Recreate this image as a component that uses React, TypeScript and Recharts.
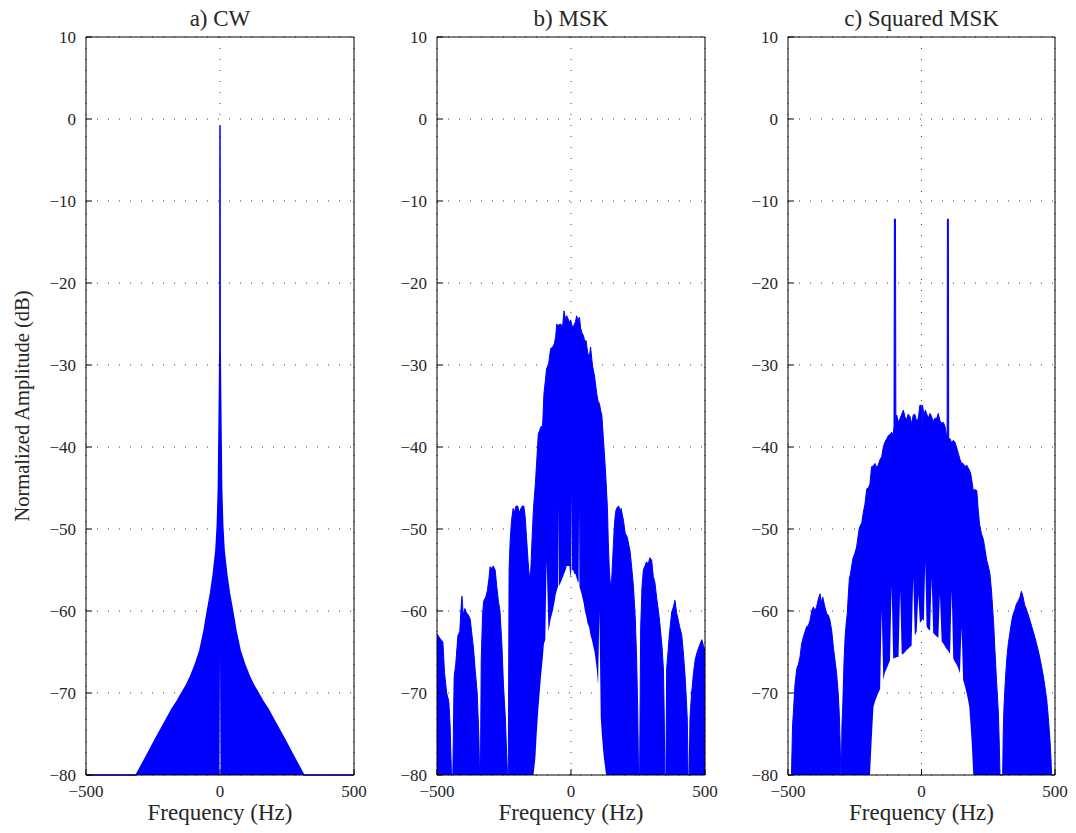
import { ComposedChart, Area, Line, XAxis, YAxis, CartesianGrid } from "recharts";

const FONT = '"Liberation Serif", "DejaVu Serif", Tinos, "Noto Serif", FreeSerif, serif';
const BLUE = "#0000ff";
const TEXT = "#262626";
const FLOOR = -80;

const yTicks = [-80, -70, -60, -50, -40, -30, -20, -10, 0, 10];
const xTicks = [-500, 0, 500];

// a) CW
const fA = [
  -500, -313, -276, -239, -210, -180, -160, -143, -125, -110,
  -92, -75, -60, -47, -35, -25, -15, -10, -6, -4,
  -2, -0.6, 0, 0.6, 2, 4, 6, 10, 15, 25,
  35, 47, 60, 75, 92, 110, 125, 143, 160, 180,
  210, 239, 276, 313, 500,
];
const hiA = [
  -80, -80, -77.8, -75.5, -73.8, -72, -71, -70, -69, -68,
  -66.5, -64.8, -62.5, -60, -57.8, -55.5, -52.5, -49.5, -45, -39,
  -33, -28, -0.8, -28, -33, -39, -45, -49.5, -52.5, -55.5,
  -57.8, -60, -62.5, -64.8, -66.5, -68, -69, -70, -71, -72,
  -73.8, -75.5, -77.8, -80, -80,
];
const loFA = [-0.6, 0, 0.6];
const loVA = [-70, -65.5, -70];

// b) MSK
const fB = [
  -500, -490, -478, -472, -464, -456, -451, -446, -441, -436,
  -430, -422, -415, -410, -407, -402, -396, -390, -383, -376,
  -371, -364, -358, -350, -344, -341, -338, -335, -330, -326,
  -318, -312, -306, -302, -296, -290, -283, -277, -271, -265,
  -258, -252, -245, -240, -237, -234, -231, -227, -222, -216,
  -212, -205, -199, -193, -187, -182, -176, -171, -166, -160,
  -155, -150, -145, -140, -133, -128, -122, -117, -112, -106,
  -101, -96, -91, -84, -76, -68, -62, -57, -53, -48.5,
  -47, -45.5, -38, -32, -26, -20, -16, -12, -6, -1,
  1, 2.5, 4, 8, 13, 17, 21, 26, 28.5, 30,
  31.5, 36, 40, 47, 52, 56, 62, 68, 73, 78,
  81, 88, 96, 101, 106, 111, 115, 120, 123, 127,
  131, 136, 139, 143, 147, 152, 158, 162, 166, 170,
  174, 178, 183, 187, 191, 196, 202, 210, 216, 220,
  226, 233, 240, 245, 249, 252, 256, 260, 265, 270,
  276, 282, 288, 294, 301, 307, 313, 320, 326, 333,
  340, 345, 348, 350, 354, 357, 362, 368, 376, 382,
  388, 394, 400, 406, 413, 419, 425, 430, 434, 437,
  441, 444, 450, 457, 463, 469, 476, 482, 488, 494,
  500,
];
const hiB = [
  -62.8, -63.3, -63.8, -67.5, -70, -71, -74, -80, -80, -68,
  -66.5, -63, -62.5, -59.5, -58.2, -60.5, -59.7, -60.2, -60.5, -61,
  -62.5, -64.5, -67, -70, -75, -80, -80, -66, -60.5, -58.8,
  -58.3, -57.5, -56, -54.6, -54.8, -54.5, -55, -57, -58.8, -60,
  -64, -69, -73, -77.5, -80, -80, -55, -51.4, -49, -47.5,
  -48, -47.2, -47.2, -48, -47.5, -47.2, -47.2, -48.5, -51, -54,
  -56, -55, -51, -47.5, -44.5, -41.8, -38.4, -38, -37.5, -37.5,
  -33.5, -32, -30.4, -30, -28, -27.8, -27.4, -26.5, -25, -25.2,
  -25.2, -25.1, -25, -25.5, -23.4, -24.5, -24, -24.3, -24.8, -24.5,
  -24.8, -25, -25.2, -25.4, -25, -24.7, -24, -24.6, -24.4, -24.2,
  -24.2, -25.5, -26, -26.5, -27.2, -27, -28.4, -29.2, -27.8, -29.4,
  -30.2, -31.4, -33.5, -34.4, -34.7, -35.6, -36.1, -38.5, -40, -42,
  -44.3, -47.5, -51.4, -55, -57, -56, -52, -49.5, -48, -47.5,
  -47.3, -47.2, -47.8, -47.5, -48.2, -49, -50.5, -51, -52, -52.6,
  -54.5, -57, -61, -66, -72, -80, -80, -62, -57, -55,
  -54.5, -54, -54.3, -53.5, -53.8, -55.8, -56.5, -58.5, -59.9, -62,
  -64.5, -67.2, -73, -80, -80, -67, -65, -62.5, -60.1, -59.5,
  -58.7, -60.2, -61.1, -62, -62.9, -65, -67.6, -70.5, -73.3, -80,
  -80, -73, -70, -67.6, -66, -65.2, -64.5, -64, -63.5, -64.2,
  -64.8,
];
const loFB = [
  -133, -128, -122, -117, -112, -106, -101, -96, -91, -84,
  -76, -68, -62, -57, -53, -48.5, -47, -45.5, -38, -32,
  -26, -20, -16, -12, -6, -1, 1, 2.5, 4, 8,
  13, 17, 21, 26, 28.5, 30, 31.5, 36, 40, 47,
  52, 56, 62, 68, 73, 78, 81, 88, 96, 101,
  106, 111, 115, 120, 123, 127,
];
const loVB = [
  -78, -75, -72, -70, -68, -66, -64, -63.5, -54, -62.5,
  -61, -60, -59, -58, -57.5, -57, -47.3, -57, -56.5, -56,
  -55.5, -55, -54.5, -54.5, -54.5, -56, -55, -45.6, -55, -55,
  -55.5, -55.5, -56, -56.5, -56.5, -47.5, -57, -57.5, -58, -59,
  -60, -60.5, -61.5, -62, -63, -63.5, -64, -65, -67, -69,
  -60, -73, -75, -77, -78, -79,
];

// c) Squared MSK
const fC = [
  -500, -487, -483, -480, -474, -467, -461, -455, -449, -442,
  -436, -430, -424, -417, -411, -405, -399, -393, -386, -380,
  -375, -370, -362, -355, -349, -343, -336, -330, -324, -318,
  -312, -308, -304, -302, -300, -298, -295, -290, -286, -282,
  -278, -274, -270, -266, -262, -256, -250, -243, -238, -233,
  -228, -224, -218, -212, -205, -199, -193, -187, -180, -174,
  -168, -162, -155, -149, -143, -137, -130, -124, -118, -112,
  -106, -103, -101.5, -97.5, -96, -93, -86, -80, -74, -68,
  -62, -56, -50, -43, -37, -31, -25, -18, -12, -6,
  -1, 2, 4, 9, 14, 19, 25, 32, 38, 44,
  50, 57, 63, 69, 75.5, 82, 88, 93, 96, 97,
  100.5, 102, 107, 113, 119, 125, 131, 138, 144, 150,
  156, 163, 169, 174, 179, 184, 188, 194, 200, 207,
  212, 217, 224, 232, 238, 244, 250, 256, 262, 267,
  271, 275, 281, 288, 292, 294, 302, 304, 306, 309,
  314, 319, 325, 331, 338, 344, 350, 356, 362, 369,
  374, 379, 386, 394, 403, 413, 421, 431, 440, 450,
  459, 469, 475, 481, 485, 487, 500,
];
const hiC = [
  -80, -80, -74, -72.5, -69, -67, -66.5, -65.6, -64, -63.1,
  -62.5, -61.9, -61.8, -61.1, -60, -59.5, -60, -59.5, -58.5, -57.9,
  -59, -58.3, -59.5, -60.3, -60.5, -61.1, -62.5, -64.4, -66, -67.6,
  -70, -72.5, -77, -80, -80, -74, -71.7, -66, -63.1, -61.5,
  -60.3, -58, -56, -55.5, -54.6, -53.5, -53, -52.2, -51, -49.9,
  -49.5, -49.3, -48, -47, -45.1, -45, -44.5, -42.4, -42.3, -42,
  -42.5, -42.2, -41.5, -41.2, -40, -39.4, -39, -38.6, -38.5, -38.2,
  -38.5, -37.5, -12.2, -12.2, -37, -36.1, -37, -36.5, -36, -35.5,
  -36.3, -36.7, -36, -36.3, -37.2, -36.1, -36, -36.9, -36.5, -34.9,
  -34.9, -37.5, -34.9, -36.2, -35.5, -35.9, -36.5, -35.9, -36.3, -36.9,
  -36.5, -36.5, -35.9, -36.8, -37.1, -37, -37.5, -38.5, -38.5, -12.2,
  -12.2, -39, -39, -39.5, -39.2, -39.4, -40, -40.8, -41.5, -42,
  -42, -42.4, -42.2, -42.5, -42.8, -43.2, -44, -45.3, -45.2, -45.3,
  -47.5, -49.3, -50.5, -51.3, -52.5, -53.8, -54.5, -55.4, -57.5, -59.9,
  -62, -64.8, -68.5, -72.5, -77, -80, -80, -80, -75, -71.7,
  -68.5, -66, -64, -62.7, -61.2, -60.3, -59.8, -59.1, -58.8, -58.3,
  -57.6, -58.1, -59.2, -59.9, -60.8, -61.9, -62.8, -64, -65.2, -66.8,
  -68.5, -70.8, -73, -75.7, -78, -80, -80,
];
const loFC = [
  -187, -180, -174, -168, -162, -155, -149, -143, -137, -130,
  -124, -118, -112, -106, -103, -101.5, -97.5, -96, -93, -86,
  -80, -74, -68, -62, -56, -50, -43, -37, -31, -25,
  -18, -12, -6, -1, 2, 4, 9, 14, 19, 25,
  32, 38, 44, 50, 57, 63, 69, 75.5, 82, 88,
  93, 96, 97, 100.5, 102, 107, 113, 119, 125, 131,
  138, 144, 150, 156, 163, 169, 174, 179, 184, 188,
];
const loVC = [
  -76, -71.7, -71, -70.5, -70, -69.5, -60, -68.4, -67.5, -67,
  -66.5, -66, -57, -65.8, -65.8, -65.7, -65.7, -65.7, -65.6, -65.6,
  -57.5, -65.3, -65.2, -65, -64.8, -64.6, -64.4, -64.2, -56, -63,
  -62.5, -58, -61.5, -61.2, -61, -61, -61.2, -54, -61.9, -62.2,
  -62.4, -56, -62.7, -62.9, -63.1, -63.3, -58, -63.7, -64, -64.3,
  -64.6, -64.7, -64.7, -64.9, -65, -65.2, -57.5, -65.8, -66.2, -66.5,
  -67, -67.6, -62, -68.4, -69.2, -70, -70.8, -71.7, -74, -76,
];

function buildRows(f: number[], hi: number[], loF: number[], loV: number[]) {
  const lo = new Map(loF.map((x, i) => [x, loV[i]]));
  return f.map((x, i) => ({ f: x, hi: hi[i], band: [lo.get(x) ?? FLOOR, hi[i]] }));
}

const minus = (v: number) => (v < 0 ? "\u2212" + Math.abs(v) : String(v));

type PanelProps = {
  left: number;
  yW: number;
  plotW: number;
  title: string;
  rows: { f: number; hi: number; band: number[] }[];
  yLabel?: string;
  lineW?: number;
};

function Panel({ left, yW, plotW, title, rows, yLabel, lineW = 1 }: PanelProps) {
  const width = yW + plotW + 21;
  const tickStyle = { fontSize: 17, fill: TEXT, fontFamily: FONT };
  return (
    <div style={{ position: "absolute", left, top: 0 }}>
      <div
        style={{
          position: "absolute",
          left: yW,
          width: plotW,
          top: 7,
          textAlign: "center",
          fontFamily: FONT,
          fontSize: 23,
          lineHeight: "23px",
          color: TEXT,
        }}
      >
        {title}
      </div>
      <ComposedChart
        width={width}
        height={833}
        data={rows}
        margin={{ top: 36, right: 20, bottom: 0, left: 0 }}
      >
        <CartesianGrid stroke="#444" strokeDasharray="1 10" />
        <XAxis
          dataKey="f"
          type="number"
          domain={[-500, 500]}
          ticks={xTicks}
          interval={0}
          height={58}
          tickSize={-6}
          tickMargin={16}
          tickFormatter={minus}
          tick={tickStyle}
          axisLine={{ stroke: "#000" }}
          tickLine={{ stroke: "#000" }}
          label={{
            value: "Frequency (Hz)",
            position: "insideBottom",
            offset: 13,
            style: { fontSize: 23, fill: TEXT, fontFamily: FONT },
          }}
        />
        <XAxis
          xAxisId="top"
          orientation="top"
          type="number"
          domain={[-500, 500]}
          ticks={xTicks}
          height={1}
          tickSize={-6}
          tick={false}
          axisLine={{ stroke: "#000" }}
          tickLine={{ stroke: "#000" }}
        />
        <YAxis
          type="number"
          domain={[-80, 10]}
          ticks={yTicks}
          interval={0}
          width={yW}
          tickSize={-6}
          tickMargin={16}
          tickFormatter={minus}
          tick={tickStyle}
          axisLine={{ stroke: "#000" }}
          tickLine={{ stroke: "#000" }}
          label={
            yLabel
              ? {
                  value: yLabel,
                  angle: -90,
                  position: "insideLeft",
                  offset: 22,
                  style: { textAnchor: "middle", fontSize: 20.5, fill: TEXT, fontFamily: FONT },
                }
              : undefined
          }
        />
        <YAxis
          yAxisId="right"
          orientation="right"
          type="number"
          domain={[-80, 10]}
          ticks={yTicks}
          width={1}
          tickSize={-6}
          tick={false}
          axisLine={{ stroke: "#000" }}
          tickLine={{ stroke: "#000" }}
        />
        <Area
          dataKey="band"
          type="linear"
          fill={BLUE}
          fillOpacity={1}
          stroke="none"
          isAnimationActive={false}
          activeDot={false}
        />
        <Line
          dataKey="hi"
          type="linear"
          stroke={BLUE}
          strokeWidth={lineW}
          dot={false}
          activeDot={false}
          isAnimationActive={false}
        />
      </ComposedChart>
    </div>
  );
}

export default function App() {
  return (
    <div style={{ position: "absolute", left: 0, top: 0, width: 1076, height: 833, background: "#fff" }}>
      <Panel
        left={0}
        yW={86}
        plotW={268}
        title="a) CW"
        rows={buildRows(fA, hiA, loFA, loVA)}
        yLabel="Normalized Amplitude (dB)"
        lineW={1.5}
      />
      <Panel left={377} yW={60} plotW={268} title="b) MSK" rows={buildRows(fB, hiB, loFB, loVB)} />
      <Panel left={728} yW={60} plotW={267} title="c) Squared MSK" rows={buildRows(fC, hiC, loFC, loVC)} />
    </div>
  );
}
